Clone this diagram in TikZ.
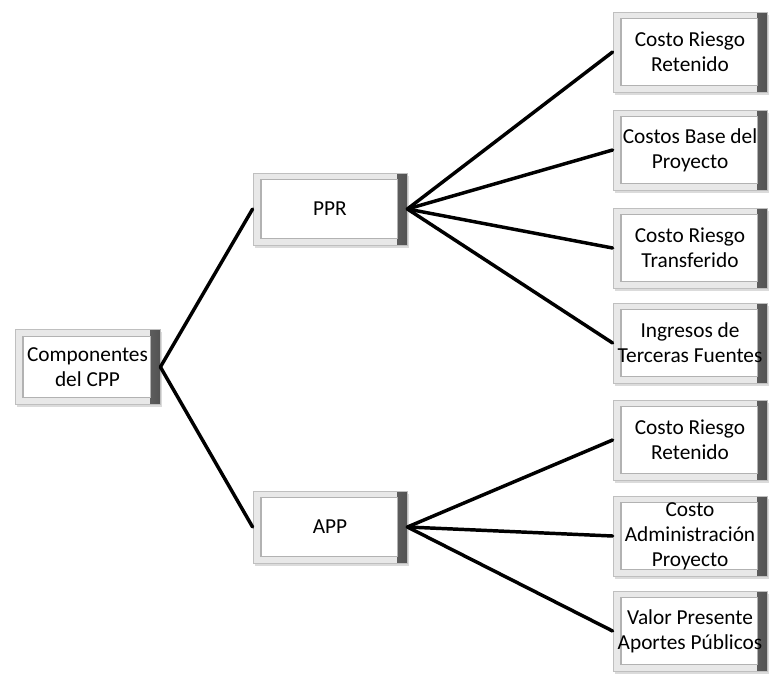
\documentclass[tikz,border=0pt]{standalone}
\usepackage{fontspec}
\setmainfont{Carlito}
\usepackage{tikz}
\usetikzlibrary{shadows}

\tikzset{
  bevel/.style={rectangle, draw=gray!50, fill=gray!18, line width=0.6pt, inner sep=0pt, align=center,
    font=\fontsize{16}{18.8}\selectfont,
    drop shadow={shadow xshift=1.5pt, shadow yshift=-2pt, fill=gray!70, opacity=0.4},
    path picture={
      \shade[left color=gray!25, right color=gray!65!black]
        ([xshift=-7pt]path picture bounding box.north east) rectangle (path picture bounding box.south east);
      \filldraw[fill=white, draw=gray!60, line width=0.8pt]
        ([shift={(6pt,-5pt)}]path picture bounding box.north west) rectangle ([shift={(-7pt,5pt)}]path picture bounding box.south east);
    }},
  leaf/.style={bevel, minimum width=115.5pt, minimum height=60pt},
  mid/.style={bevel, minimum width=115.5pt, minimum height=54pt},
  branch/.style={line width=2.6pt, line cap=round}
}

\begin{document}
\begin{tikzpicture}[x=0.75pt,y=0.75pt,yscale=-1,xscale=1]
\useasboundingbox (0,0) rectangle (769,679);

% Root
\node [bevel, minimum width=108.75pt, minimum height=56pt] (cpp) at (87.5,367) {Componentes\\del CPP};
% Middle level
\node [mid] (ppr) at (330,209) {PPR};
\node [mid] (app) at (330,527) {APP};
% PPR leaves
\node [leaf] (ppr1) at (690,52) {Costo Riesgo\\Retenido};
\node [leaf] (ppr2) at (690,150) {Costos Base del\\Proyecto};
\node [leaf] (ppr3) at (690,248) {Costo Riesgo\\Transferido};
\node [leaf] (ppr4) at (690,343) {Ingresos de\\Terceras Fuentes};
% APP leaves
\node [leaf] (app1) at (690,440) {Costo Riesgo\\Retenido};
\node [leaf] (app2) at (690,536) {Costo\\Administración\\Proyecto};
\node [leaf] (app3) at (690,631) {Valor Presente\\Aportes Públicos};

% Lines
\draw [branch] (cpp.east) -- (ppr.west);
\draw [branch] (cpp.east) -- (app.west);
\foreach \n in {ppr1,ppr2,ppr3,ppr4}
  \draw [branch] (ppr.east) -- (\n.west);
\foreach \n in {app1,app2,app3}
  \draw [branch] (app.east) -- (\n.west);

\end{tikzpicture}
\end{document}
